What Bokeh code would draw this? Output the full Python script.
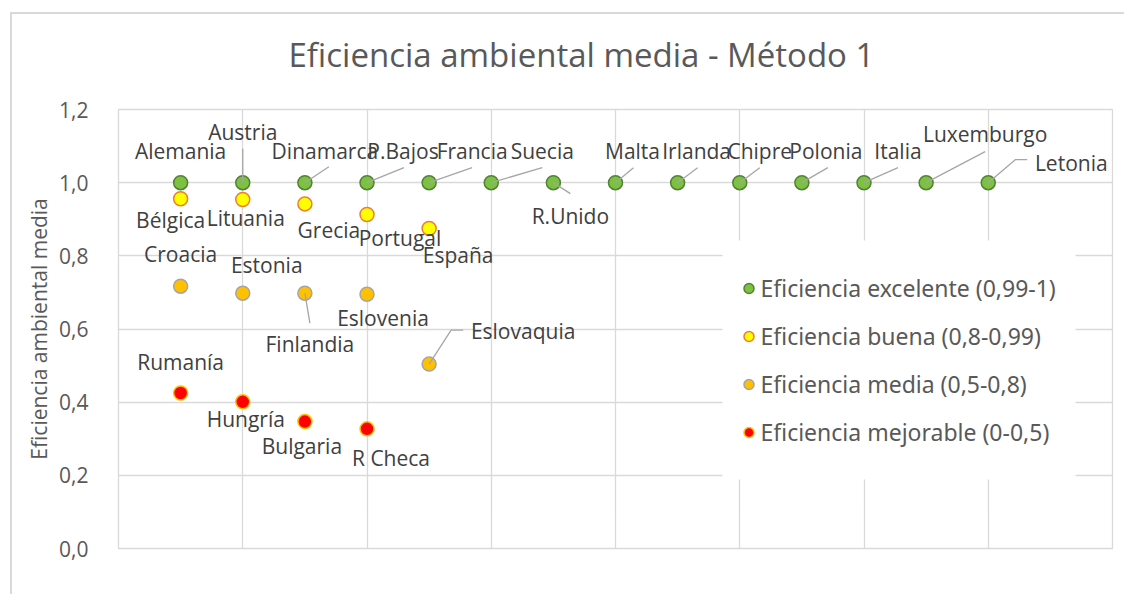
from bokeh.plotting import figure
from bokeh.models import (ColumnDataSource, FixedTicker, Legend, LegendItem,
                          BoxAnnotation, Range1d)
from bokeh.core.properties import value
from bokeh.embed import file_html
from bokeh.resources import INLINE

# ---------------- data ----------------
exc_names = ["Alemania", "Austria", "Dinamarca", "P.Bajos", "Francia", "Suecia", "R.Unido",
             "Malta", "Irlanda", "Chipre", "Polonia", "Italia", "Luxemburgo", "Letonia"]
exc_x = [1, 2, 3, 4, 5, 6, 7, 8, 9, 10, 11, 12, 13, 14]
exc_y = [1.0, 1.0, 1.0, 1.0, 1.0, 1.0, 1.0, 1.0, 1.0, 1.0, 1.0, 1.0, 1.0, 1.0]

buena_names = ["Bélgica", "Lituania", "Grecia", "Portugal", "España"]
buena_x = [1, 2, 3, 4, 5]
buena_y = [0.956, 0.954, 0.942, 0.913, 0.875]

media_names = ["Croacia", "Estonia", "Finlandia", "Eslovenia", "Eslovaquia"]
media_x = [1, 2, 3, 4, 5]
media_y = [0.717, 0.698, 0.698, 0.695, 0.504]

mejor_names = ["Rumanía", "Hungría", "Bulgaria", "R Checa"]
mejor_x = [1, 2, 3, 4]
mejor_y = [0.425, 0.401, 0.347, 0.327]

series_labels = ["Eficiencia excelente (0,99-1)", "Eficiencia buena (0,8-0,99)",
                 "Eficiencia media (0,5-0,8)", "Eficiencia mejorable (0-0,5)"]

y_ticks = [0.0, 0.2, 0.4, 0.6, 0.8, 1.0, 1.2]
y_tick_labels = ["0,0", "0,2", "0,4", "0,6", "0,8", "1,0", "1,2"]

title_text = "Eficiencia ambiental media - Método 1"
y_title = "Eficiencia ambiental media"

# ---------------- styles (label offsets in px; leader polylines in px) ----------------
exc_off = [(0, -32), (0, -51), (20, -32), (36, -32), (43, -32), (51, -32), (17, 33),
           (17, -32), (19, -32), (20, -32), (24, -32), (34, -32), (59, -49), (83, -20)]
exc_lead = [None, [(0, 0), (0, -34)], [(0, 0), (24, -16)], [(0, 0), (37, -15)],
            [(0, 0), (43, -15)], [(0, 0), (51, -15)], [(0, 0), (17, 11)],
            [(0, 0), (18, -15)], [(0, 0), (20, -15)], [(0, 0), (20, -15)],
            [(0, 0), (26, -15)], [(0, 0), (34, -15)], [(0, 0), (59, -31)],
            [(0, 0), (27, -23), (39, -23)]]
buena_off = [(-10, 21), (3, 19), (24, 26), (33, 24), (29, 27)]
buena_lead = [None, None, None, None, None]
media_off = [(0, -32), (24, -28), (5, 51), (16, 24), (94, -33)]
media_lead = [None, None, [(0, 0), (5, 30)], None, [(0, 0), (22, -34), (34, -34)]]
mejor_off = [(0, -31), (3, 17), (-3, 24), (24, 29)]
mejor_lead = [None, None, None, None]

FONT = "Open Sans"
GRID = "#d9d9d9"
TXT = "#595959"
LBL = "#404040"

W, H = 1114, 582
X0, X1, Y0, Y1 = 0, 16, 0, 1.2
ML, MR, MT, MB = 106, 14, 95, 48
PXX = (W - ML - MR) / (X1 - X0)
PXY = (H - MT - MB) / (Y1 - Y0)

p = figure(width=W, height=H, output_backend="svg", toolbar_location=None,
           x_range=Range1d(X0, X1), y_range=Range1d(Y0, Y1),
           min_border_left=ML, min_border_right=MR, min_border_top=MT, min_border_bottom=MB)
p.margin = (12, 0, 0, 10)
p.styles = {"border-left": "2px solid #d9d9d9", "border-top": "2px solid #d9d9d9"}
p.outline_line_color = GRID
p.outline_line_width = 1.3
p.background_fill_color = "white"
p.border_fill_color = "white"

# title
p.title.text = title_text
p.title.text_font = FONT
p.title.text_font_size = "33px"
p.title.text_font_style = "normal"
p.title.text_color = TXT
p.title.align = "left"
p.title.offset = 170
p.title.standoff = 0
p.title.padding = dict(left=0, right=0, top=0, bottom=33)

# axes
p.xaxis.visible = False
p.yaxis.ticker = FixedTicker(ticks=y_ticks)
p.yaxis.major_label_overrides = {t: s for t, s in zip(y_ticks, y_tick_labels)}
p.yaxis.axis_line_color = None
p.yaxis.major_tick_line_color = None
p.yaxis.minor_tick_line_color = None
p.yaxis.major_label_standoff = 24
p.yaxis.major_label_text_font = FONT
p.yaxis.major_label_text_font_size = "21px"
p.yaxis.major_label_text_color = TXT
p.yaxis.axis_label = y_title
p.yaxis.axis_label_text_font = FONT
p.yaxis.axis_label_text_font_size = "21px"
p.yaxis.axis_label_text_font_style = "normal"
p.yaxis.axis_label_text_color = TXT
p.yaxis.axis_label_standoff = 3

p.xgrid.ticker = FixedTicker(ticks=[0, 2, 4, 6, 8, 10, 12, 14, 16])
p.ygrid.ticker = FixedTicker(ticks=y_ticks)
for g in (p.xgrid, p.ygrid):
    g.grid_line_color = GRID
    g.grid_line_width = 1.3

groups = [
    (exc_names, exc_x, exc_y, exc_off, exc_lead, "#7cc142", "#538135"),
    (buena_names, buena_x, buena_y, buena_off, buena_lead, "#ffff00", "#ed7d31"),
    (media_names, media_x, media_y, media_off, media_lead, "#ffc000", "#a5a5a5"),
    (mejor_names, mejor_x, mejor_y, mejor_off, mejor_lead, "#ff0000", "#ffc000"),
]

items = []
for (names, xs, ys, offs, leads, fc, lc), lab in zip(groups, series_labels):
    src = ColumnDataSource(dict(x=xs, y=ys, name=names,
                                dx=[o[0] for o in offs], dy=[o[1] for o in offs]))
    r = p.scatter("x", "y", source=src, size=14, fill_color=fc, line_color=lc, line_width=1.5)
    items.append(LegendItem(label=lab, renderers=[r]))
    lx, ly = [], []
    for x, y, ld in zip(xs, ys, leads):
        if ld:
            lx.append([x + a / PXX for a, b in ld])
            ly.append([y - b / PXY for a, b in ld])
    if lx:
        p.multi_line(lx, ly, line_color="#a6a6a6", line_width=1.3)
    p.text("x", "y", text="name", source=src, x_offset="dx", y_offset="dy",
           text_align="center", text_baseline="middle", text_font=value(FONT),
           text_font_size="21px", text_color=LBL)

# legend area (white panel hiding the grid, as in the original) + legend
LEG_L, LEG_R, LEG_T, LEG_B = 604, 957, 131, 370   # px from frame left / top
p.add_layout(BoxAnnotation(left=X0 + LEG_L / PXX, right=X0 + LEG_R / PXX,
                           top=Y1 - LEG_T / PXY, bottom=Y1 - LEG_B / PXY,
                           fill_color="white", fill_alpha=1.0, line_color=None))
legend = Legend(items=items, location=(617.5, 92), padding=0, spacing=0, margin=0,
                glyph_width=25, glyph_height=48, label_height=48, label_standoff=0,
                label_text_font="Noto Sans", label_text_font_size="23px",
                label_text_color=TXT, border_line_color=None,
                background_fill_color="white", background_fill_alpha=1.0)
p.add_layout(legend)

open("out.html", "w").write(file_html(p, INLINE))
